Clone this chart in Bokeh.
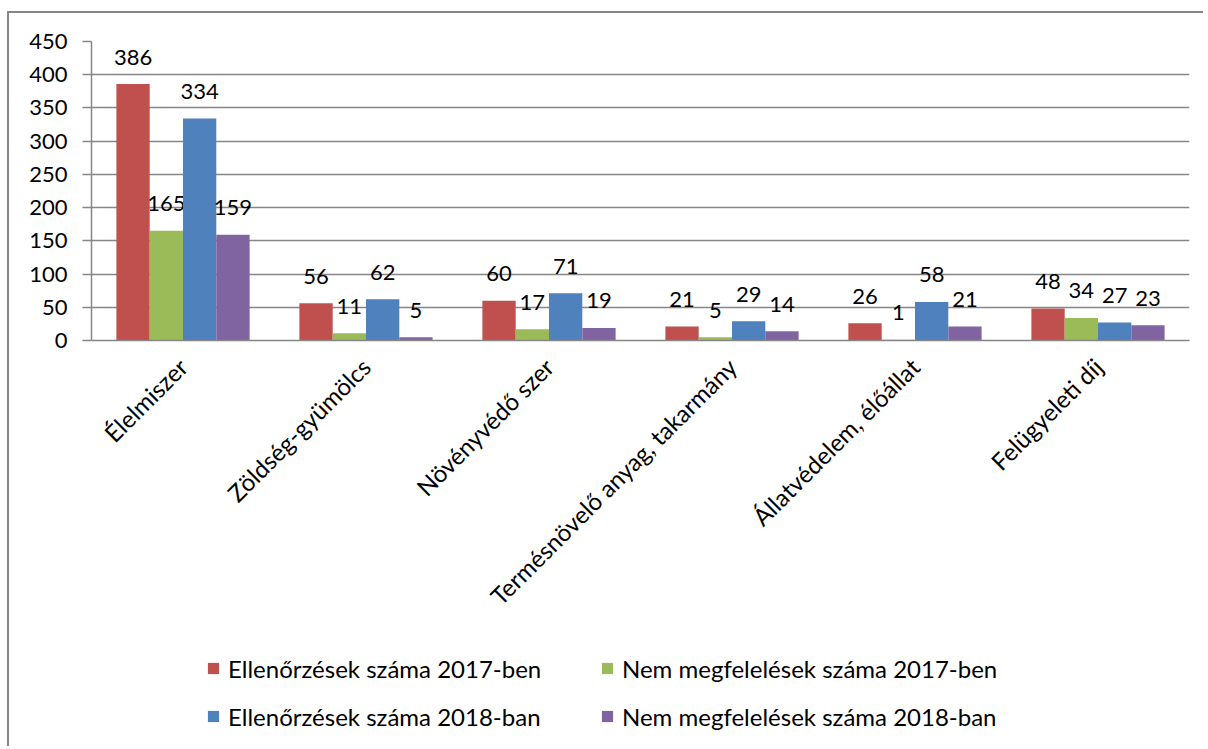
from bokeh.plotting import figure
from bokeh.layouts import column
from bokeh.models import ColumnDataSource, FactorRange, Range1d, SingleIntervalTicker, Legend, LegendItem
from bokeh.transform import dodge
from bokeh.core.properties import value
from bokeh.embed import file_html
from bokeh.resources import INLINE
import math

categories = ["Élelmiszer", "Zöldség-gyümölcs", "Növényvédő szer",
              "Termésnövelő anyag, takarmány", "Állatvédelem, élőállat", "Felügyeleti díj"]
series_names = ["Ellenőrzések száma 2017-ben", "Nem megfelelések száma 2017-ben",
                "Ellenőrzések száma 2018-ban", "Nem megfelelések száma 2018-ban"]
ell_2017 = [386, 56, 60, 21, 26, 48]
nem_2017 = [165, 11, 17, 5, 1, 34]
ell_2018 = [334, 62, 71, 29, 58, 27]
nem_2018 = [159, 5, 19, 14, 21, 23]
y_ticks_interval = 50
y_max = 450

colors = ["#C0504D", "#9BBB59", "#4F81BD", "#8064A2"]
FONT = "Lato"
GRAY = "#868686"

src = ColumnDataSource(dict(cat=categories, a=ell_2017, b=nem_2017, c=ell_2018, d=nem_2018,
                            la=[str(v) for v in ell_2017], lb=[str(v) for v in nem_2017],
                            lc=[str(v) for v in ell_2018], ld=[str(v) for v in nem_2018]))

W = 1196
H1 = 630
TOP = 28
p = figure(x_range=FactorRange(*categories, range_padding=0), y_range=Range1d(0, y_max),
           width=W, height=H1, output_backend="svg", toolbar_location=None,
           min_border_left=82, min_border_right=W - 82 - 1098, min_border_top=TOP,
           min_border_bottom=H1 - TOP - 299)
p.styles = {"border-top": "2px solid #868686", "border-left": "2px solid #868686"}
p.outline_line_color = None
p.background_fill_color = "white"
p.border_fill_color = "white"

bw = 0.182
offsets = [-1.5 * bw, -0.5 * bw, 0.5 * bw, 1.5 * bw]
fields = ["a", "b", "c", "d"]
lfields = ["la", "lb", "lc", "ld"]
for f, lf, off, col in zip(fields, lfields, offsets, colors):
    p.vbar(x=dodge("cat", off, range=p.x_range), top=f, width=bw, source=src,
           fill_color=col, line_color=None)
    p.text(x=dodge("cat", off, range=p.x_range), y=f, text=lf, source=src,
           text_align="center", text_baseline="alphabetic", y_offset=-27,
           text_font=value(FONT), text_font_size="22px", text_color="black")

p.xgrid.grid_line_color = None
p.ygrid.grid_line_color = GRAY
p.ygrid.grid_line_width = 1.5
p.yaxis.ticker = SingleIntervalTicker(interval=y_ticks_interval)
p.ygrid.ticker = SingleIntervalTicker(interval=y_ticks_interval)

for ax in (p.xaxis, p.yaxis):
    ax.axis_line_color = GRAY
    ax.axis_line_width = 1.5
    ax.major_tick_line_color = GRAY
    ax.major_tick_line_width = 1.5
    ax.minor_tick_line_color = None
    ax.major_label_text_font = FONT
    ax.major_label_text_color = "black"

p.yaxis.major_tick_out = 9
p.yaxis.major_tick_in = 0
p.yaxis.major_label_standoff = 15
p.yaxis.major_label_text_font_size = "22px"

p.xaxis.major_tick_line_color = None
p.xaxis.major_tick_out = 0
p.xaxis.major_tick_in = 0
p.xaxis.major_label_orientation = math.pi / 4
p.xaxis.major_label_text_font_size = "24px"
p.xaxis.major_label_standoff = 22

# legend in its own strip below
H2 = 105
q = figure(width=W, height=H2, output_backend="svg", toolbar_location=None,
           x_range=Range1d(0, W), y_range=Range1d(0, H2),
           min_border_left=0, min_border_right=0, min_border_top=0, min_border_bottom=0,
           x_axis_location=None, y_axis_location=None)
q.styles = {"border-left": "2px solid #868686"}
q.grid.grid_line_color = None
q.outline_line_color = None
dummy = [q.vbar(x=[0], top=[0], bottom=[0], width=1, fill_color=c, line_color=None) for c in colors]
# Bokeh fills legend columns first: order items so rows read like the reference
order = [0, 2, 1, 3]
items = [LegendItem(label=series_names[i], renderers=[dummy[i]]) for i in order]
legend = Legend(items=items, ncols=2, location=(115, 15), padding=0, margin=0,
                spacing=18, glyph_width=14, glyph_height=14, label_height=30,
                label_standoff=8, label_width=354, label_text_font=FONT,
                label_text_font_size="24px", label_text_color="black",
                border_line_color=None, background_fill_alpha=0)
q.add_layout(legend, "center")

lay = column(p, q, spacing=0, styles={"margin-top": "11px", "margin-left": "7px"})
open("out.html", "w").write(file_html(lay, INLINE))
